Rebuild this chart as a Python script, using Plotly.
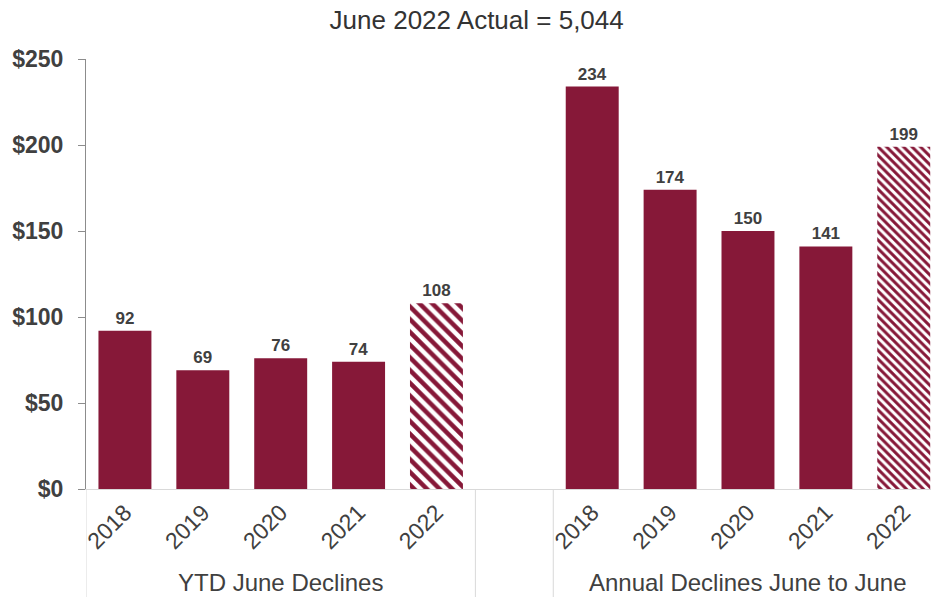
import plotly.graph_objects as go

# Data
years = ["2018", "2019", "2020", "2021", "2022"]
ytd_june = [92, 69, 76, 74, 108]
annual_june = [234, 174, 150, 141, 199]
group_labels = ["YTD June Declines", "Annual Declines June to June"]
y_ticks = [0, 50, 100, 150, 200, 250]
title_text = "June 2022 Actual = 5,044"

MAROON = "#861838"
TEXT = "#404040"
FONT = "Arial, Liberation Sans, sans-serif"

# Slot layout: group 1 at 0..4, empty slot 5, group 2 at 6..10
gap = 1
x_ytd = list(range(len(years)))
x_ann = [i + len(years) + gap for i in range(len(years))]

x_all = x_ytd + x_ann
y_all = ytd_june + annual_june
labels_all = years + years

# Last year of each group is drawn hatched
solid_idx = [i for i, lab in enumerate(labels_all) if lab != "2022"]
hatch_idx = [i for i, lab in enumerate(labels_all) if lab == "2022"]

fig = go.Figure()

fig.add_trace(go.Bar(
    x=[x_all[i] for i in solid_idx],
    y=[y_all[i] for i in solid_idx],
    width=0.68,
    marker=dict(color=MAROON, line=dict(width=0)),
    text=[y_all[i] for i in solid_idx],
    textposition="outside",
    textfont=dict(family=FONT, size=17, color=TEXT, weight="bold"),
    cliponaxis=False,
    showlegend=False,
))

fig.add_trace(go.Bar(
    x=[x_all[i] for i in hatch_idx],
    y=[y_all[i] for i in hatch_idx],
    width=0.68,
    marker=dict(
        color="white",
        line=dict(width=0),
        pattern=dict(shape="\\", fgcolor=MAROON, bgcolor="white",
                     size=[9, 6], solidity=0.5, fillmode="replace"),
    ),
    text=[y_all[i] for i in hatch_idx],
    textposition="outside",
    textfont=dict(family=FONT, size=17, color=TEXT, weight="bold"),
    cliponaxis=False,
    showlegend=False,
))

# Vertical dividers below the axis between the category groups
bottom = -0.252
for xv in [-0.5, len(years) - 0.5, len(years) + gap - 0.5, 2 * len(years) + gap - 0.5]:
    fig.add_shape(type="line", xref="x", yref="paper",
                  x0=xv, x1=xv, y0=0, y1=bottom,
                  line=dict(color="#d9d9d9", width=1), layer="below")

# Group captions
for lab, xs in zip(group_labels, [x_ytd, x_ann]):
    fig.add_annotation(x=sum(xs) / len(xs), y=-0.218, xref="x", yref="paper",
                       text=lab, showarrow=False, yanchor="middle",
                       font=dict(family=FONT, size=24, color=TEXT))

fig.update_layout(
    width=931, height=597,
    margin=dict(l=86, r=0, t=59, b=108),
    paper_bgcolor="white", plot_bgcolor="white",
    barmode="overlay",
    title=dict(text=title_text, x=0.512, xref="container", xanchor="center",
               y=0.966, yref="container", yanchor="middle",
               font=dict(family=FONT, size=26, color="#333333")),
    font=dict(family=FONT, color=TEXT),
)

fig.update_xaxes(
    range=[-0.5, 10.35],
    tickvals=x_all, ticktext=labels_all, tickangle=-45,
    tickfont=dict(family=FONT, size=23, color=TEXT),
    showline=True, linecolor="#d9d9d9", linewidth=1,
    ticks="", showgrid=False, zeroline=False,
)

fig.update_yaxes(
    range=[0, 250], tickmode="array", tickvals=y_ticks,
    ticktext=["$" + str(v) for v in y_ticks],
    tickfont=dict(family=FONT, size=23, color=TEXT, weight="bold"),
    ticklabelstandoff=10,
    showline=True, linecolor="#8c8c8c", linewidth=1,
    ticks="outside", ticklen=7, tickcolor="#8c8c8c",
    showgrid=False, zeroline=False,
)

fig.write_html("out.html")
